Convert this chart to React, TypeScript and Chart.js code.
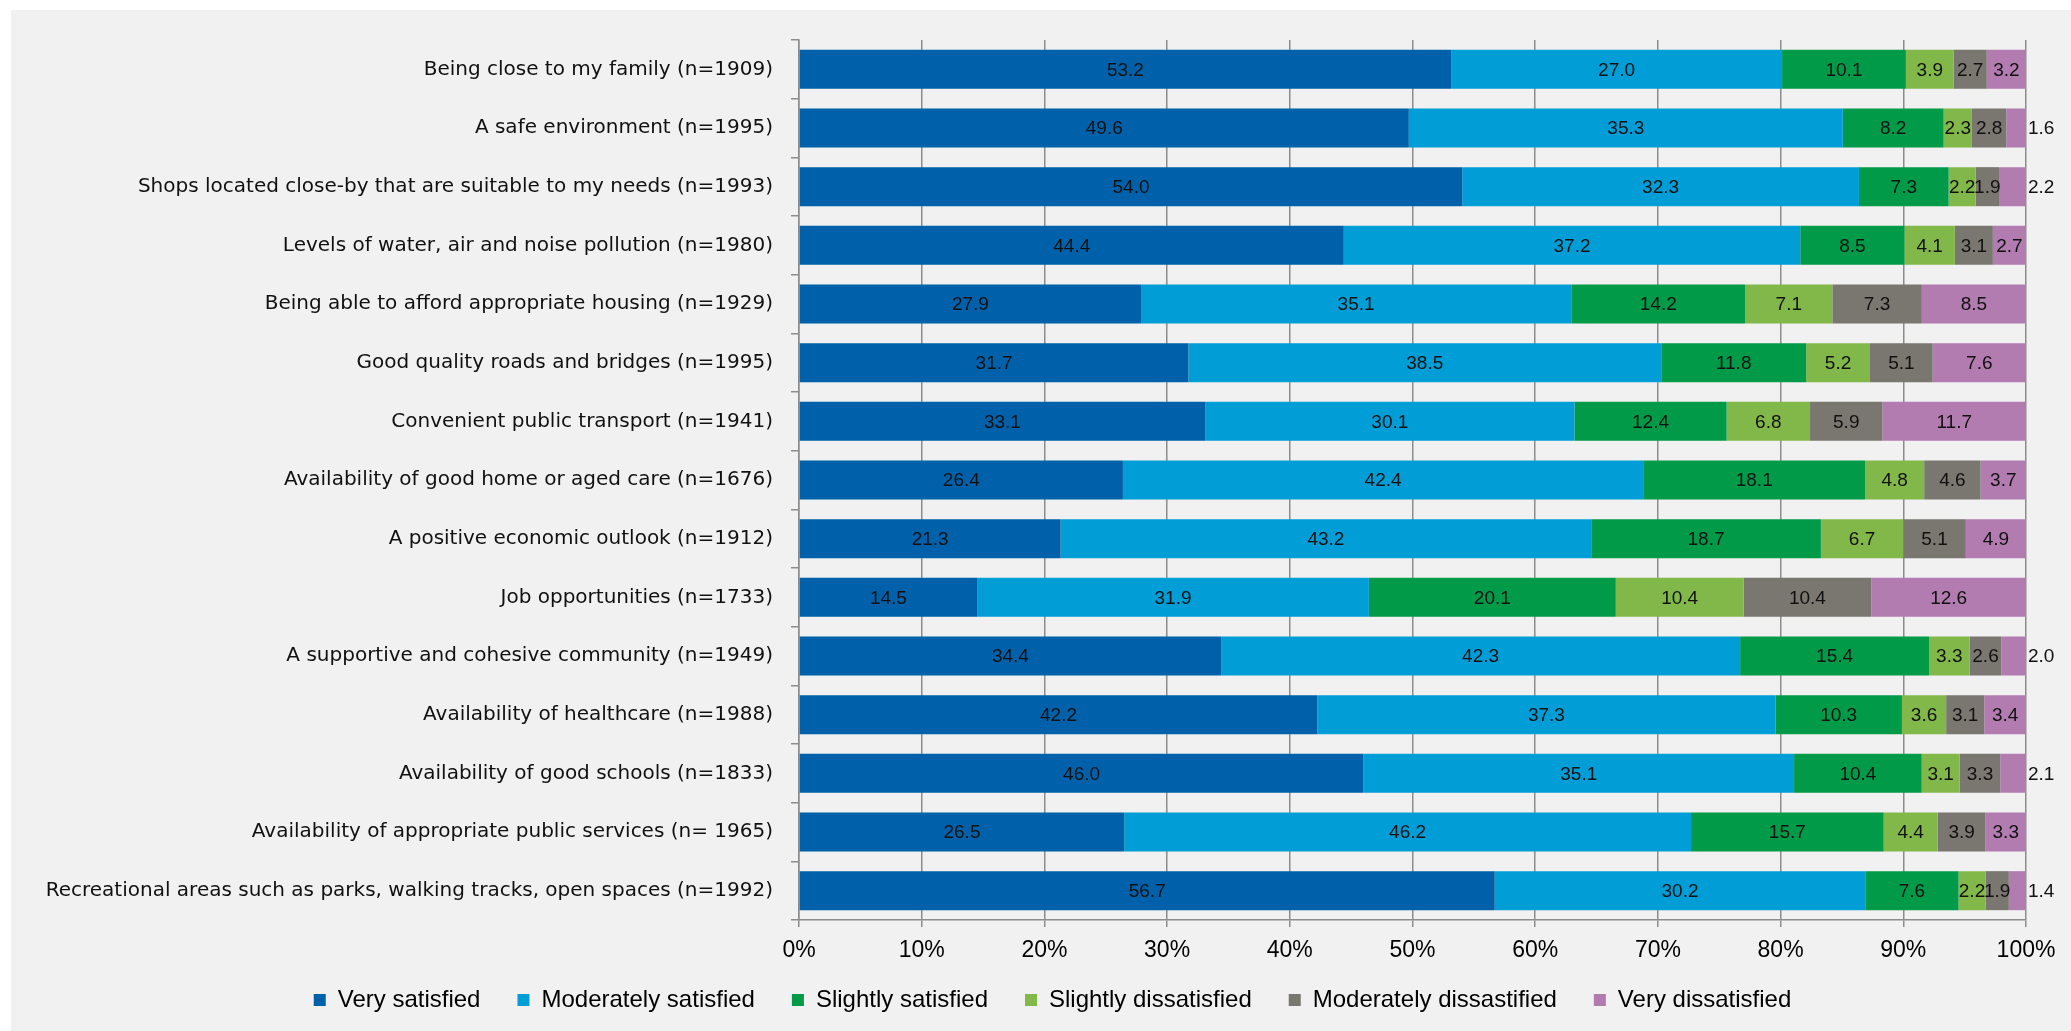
import React, { useEffect, useRef } from 'react';
import { Chart, registerables } from 'chart.js';

Chart.register(...registerables);

const categories = [
  'Being close to my family (n=1909)',
  'A safe environment (n=1995)',
  'Shops located close-by that are suitable to my needs (n=1993)',
  'Levels of water, air and noise pollution (n=1980)',
  'Being able to afford appropriate housing (n=1929)',
  'Good quality roads and bridges (n=1995)',
  'Convenient public transport (n=1941)',
  'Availability of good home or aged care (n=1676)',
  'A positive economic outlook (n=1912)',
  'Job opportunities (n=1733)',
  'A supportive and cohesive community (n=1949)',
  'Availability of healthcare (n=1988)',
  'Availability of good schools (n=1833)',
  'Availability of appropriate public services (n= 1965)',
  'Recreational areas such as parks, walking tracks, open spaces (n=1992)',
];

const seriesNames = [
  'Very satisfied',
  'Moderately satisfied',
  'Slightly satisfied',
  'Slightly dissatisfied',
  'Moderately dissastified',
  'Very dissatisfied',
];

const verySatisfied = [53.2, 49.6, 54.0, 44.4, 27.9, 31.7, 33.1, 26.4, 21.3, 14.5, 34.4, 42.2, 46.0, 26.5, 56.7];
const moderatelySatisfied = [27.0, 35.3, 32.3, 37.2, 35.1, 38.5, 30.1, 42.4, 43.2, 31.9, 42.3, 37.3, 35.1, 46.2, 30.2];
const slightlySatisfied = [10.1, 8.2, 7.3, 8.5, 14.2, 11.8, 12.4, 18.1, 18.7, 20.1, 15.4, 10.3, 10.4, 15.7, 7.6];
const slightlyDissatisfied = [3.9, 2.3, 2.2, 4.1, 7.1, 5.2, 6.8, 4.8, 6.7, 10.4, 3.3, 3.6, 3.1, 4.4, 2.2];
const moderatelyDissatisfied = [2.7, 2.8, 1.9, 3.1, 7.3, 5.1, 5.9, 4.6, 5.1, 10.4, 2.6, 3.1, 3.3, 3.9, 1.9];
const veryDissatisfied = [3.2, 1.6, 2.2, 2.7, 8.5, 7.6, 11.7, 3.7, 4.9, 12.6, 2.0, 3.4, 2.1, 3.3, 1.4];

const xTicks = [0, 10, 20, 30, 40, 50, 60, 70, 80, 90, 100];

const seriesValues = [
  verySatisfied,
  moderatelySatisfied,
  slightlySatisfied,
  slightlyDissatisfied,
  moderatelyDissatisfied,
  veryDissatisfied,
];

const seriesColors = ['#0061aa', '#009dd6', '#009a48', '#82b74a', '#7a7670', '#b27cb0'];

const GRID = '#8c8c8c';
const LABEL_FONT = '"Liberation Sans", Arial, Helvetica, sans-serif';

const rowTotals = categories.map((_, i) => seriesValues.reduce((s, arr) => s + arr[i], 0));

const valueLabelPlugin = {
  id: 'valueLabels',
  afterDatasetsDraw(chart: any) {
    const ctx = chart.ctx;
    ctx.save();
    ctx.font = '19px ' + LABEL_FONT;
    ctx.fillStyle = '#111';
    ctx.textBaseline = 'middle';
    const last = seriesValues.length - 1;
    seriesValues.forEach((arr, di) => {
      const meta = chart.getDatasetMeta(di);
      meta.data.forEach((bar: any, i: number) => {
        const raw = arr[i];
        const text = raw.toFixed(1);
        const p = bar.getProps(['x', 'base', 'y'], true);
        if (di === last && raw < 2.25) {
          ctx.textAlign = 'left';
          ctx.fillText(text, p.x + 2, p.y + 1);
        } else {
          ctx.textAlign = 'center';
          ctx.fillText(text, (p.x + p.base) / 2, p.y + 1);
        }
      });
    });
    ctx.restore();
  },
};

const legendPlacePlugin = {
  id: 'legendPlace',
  afterLayout(chart: any) {
    const lg = chart.legend;
    if (lg) {
      lg.left += 34;
      lg.right += 34;
      const h = lg.bottom - lg.top;
      lg.top = chart.chartArea.bottom + 31;
      lg.bottom = lg.top + h;
    }
  },
};

function ChartView() {
  const ref = useRef<HTMLCanvasElement | null>(null);

  useEffect(() => {
    if (!ref.current) return;
    const chart = new Chart(ref.current, {
      type: 'bar',
      data: {
        labels: categories,
        datasets: seriesValues.map((arr, di) => ({
          label: seriesNames[di],
          data: arr.map((v, i) => (v / rowTotals[i]) * 100),
          backgroundColor: seriesColors[di],
          borderWidth: 0,
          barPercentage: 1,
          categoryPercentage: 0.665,
        })),
      },
      options: {
        indexAxis: 'y',
        responsive: false,
        animation: false,
        events: [],
        layout: { padding: { top: 29, right: 45, bottom: 0, left: 0 } },
        scales: {
          x: {
            stacked: true,
            min: 0,
            max: 100,
            afterBuildTicks: (scale: any) => {
              scale.ticks = xTicks.map((v) => ({ value: v }));
            },
            afterFit: (scale: any) => {
              scale.height = 45;
            },
            ticks: {
              padding: 10,
              color: '#000',
              font: { family: LABEL_FONT, size: 23 },
              callback: (v: any) => v + '%',
              maxRotation: 0,
            },
            grid: { color: GRID, lineWidth: 1.5, tickLength: 7, drawOnChartArea: true },
            border: { display: true, color: GRID, width: 1.5 },
          },
          y: {
            stacked: true,
            afterFit: (scale: any) => {
              scale.width = 788;
            },
            ticks: {
              autoSkip: false,
              padding: 18,
              color: '#111',
              font: { family: '"DejaVu Sans", Verdana, sans-serif', size: 20 },
            },
            grid: {
              offset: true,
              drawOnChartArea: false,
              drawTicks: true,
              tickLength: 8,
              color: GRID,
              lineWidth: 1.5,
            },
            border: { display: true, color: GRID, width: 1.5 },
          },
        },
        plugins: {
          legend: {
            display: true,
            position: 'bottom',
            maxHeight: 66,
            labels: {
              boxWidth: 12,
              boxHeight: 12,
              padding: 37,
              color: '#000',
              font: { family: LABEL_FONT, size: 24 },
            },
          },
          tooltip: { enabled: false },
          title: { display: false },
        },
      },
      plugins: [valueLabelPlugin, legendPlacePlugin],
    } as any);
    return () => chart.destroy();
  }, []);

  return <canvas ref={ref} width={2060} height={1021} style={{ width: 2060, height: 1021, display: 'block' }} />;
}

export default function App() {
  return (
    <div
      style={{
        position: 'absolute',
        left: 11,
        top: 10,
        width: 2060,
        height: 1021,
        background: '#f0f1f0',
      }}
    >
      <ChartView />
    </div>
  );
}
